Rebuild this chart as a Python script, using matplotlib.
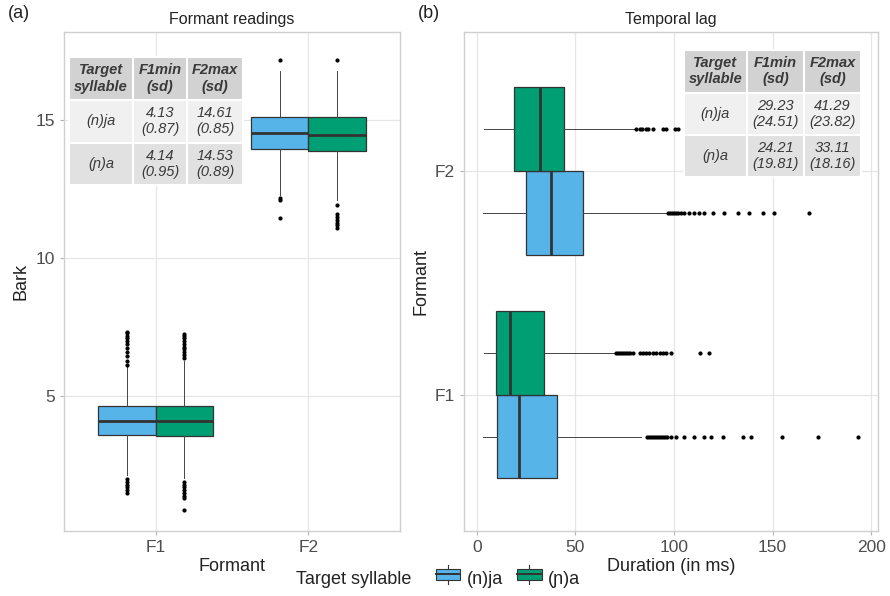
import matplotlib
matplotlib.use('Agg')
import matplotlib.pyplot as plt
from matplotlib.patches import Rectangle
from matplotlib.lines import Line2D
from matplotlib.legend_handler import HandlerBase

plt.rcParams['font.family'] = ['Liberation Sans', 'DejaVu Sans']

BLUE, GREEN = '#56B4E9', '#009E73'
EDGE = '#333333'
GRID = '#e6e6e6'
TXT = '#4d4d4d'

groups = ['(n)ja', '(ɲ)a']
formants = ['F1', 'F2']

# Box statistics: (q1, median, q3, whisker low, whisker high) per formant
bark_nja = [(3.59, 4.09, 4.64, 2.14, 6.05), (13.95, 14.53, 15.11, 12.30, 16.78)]
bark_pa = [(3.55, 4.09, 4.64, 2.03, 6.30), (13.88, 14.46, 15.11, 12.10, 16.80)]
bark_nja_out = [
    [6.15, 6.3, 6.45, 6.6, 6.75, 6.9, 7.0, 7.1, 7.2, 7.3, 7.35,
     2.0, 1.9, 1.8, 1.7, 1.6, 1.5],
    [17.2, 12.2, 12.1, 11.45],
]
bark_pa_out = [
    [6.4, 6.5, 6.6, 6.7, 6.8, 6.9, 7.0, 7.1, 7.2, 7.25,
     1.9, 1.8, 1.7, 1.6, 1.5, 1.4, 1.3, 0.9],
    [17.2, 11.95, 11.6, 11.5, 11.4, 11.3, 11.2, 11.1],
]

lag_nja = [(10.1, 21.3, 40.5, 3.0, 83.5), (24.8, 37.5, 53.7, 3.0, 96.2)]
lag_pa = [(9.6, 16.7, 33.9, 3.5, 70.0), (18.7, 31.9, 44.1, 3.5, 80.9)]
lag_nja_out = [
    [86.2, 87.5, 88.5, 89.5, 90.5, 91.5, 92.5, 93.5, 94.5, 95.5, 96.7,
     98.6, 101.1, 105.3, 110.4, 115.0, 118.8, 124.7, 134.9, 139.1,
     154.8, 173.3, 193.6],
    [96.9, 98.0, 99.0, 100.0, 101.0, 102.0, 103.5, 105.3, 107.8, 110.4,
     112.9, 115.4, 119.6, 125.5, 132.3, 138.2, 145.0, 150.9, 168.3],
]
lag_pa_out = [
    [70.4, 71.5, 72.5, 73.5, 74.5, 75.5, 76.5, 77.5, 79.2, 82.6, 84.5,
     86.0, 87.5, 89.3, 91.0, 93.0, 94.5, 96.0, 98.6, 113.0, 118.0],
    [80.9, 82.6, 84.0, 86.0, 87.0, 89.3, 94.4, 96.0, 100.5, 101.9],
]

bark_table = [['(n)ja', '4.13\n(0.87)', '14.61\n(0.85)'],
              ['(ɲ)a', '4.14\n(0.95)', '14.53\n(0.89)']]
lag_table = [['(n)ja', '29.23\n(24.51)', '41.29\n(23.82)'],
             ['(ɲ)a', '24.21\n(19.81)', '33.11\n(18.16)']]
table_head = ['Target\nsyllable', 'F1min\n(sd)', 'F2max\n(sd)']


def stats(rows, outs):
    return [dict(q1=q1, med=m, q3=q3, whislo=lo, whishi=hi, fliers=f)
            for (q1, m, q3, lo, hi), f in zip(rows, outs)]


def draw_boxes(ax, rows, outs, color, offset, vert):
    pos = [i + 1 + offset for i in range(len(rows))]
    ax.bxp(stats(rows, outs), positions=pos, widths=0.375, vert=vert,
           patch_artist=True, showcaps=False, manage_ticks=False,
           boxprops=dict(facecolor=color, edgecolor=EDGE, linewidth=0.9),
           medianprops=dict(color=EDGE, linewidth=2.0),
           whiskerprops=dict(color='#444444', linewidth=0.7),
           flierprops=dict(marker='o', markersize=2.0, markerfacecolor='black',
                           markeredgecolor='black', linestyle='none'))


def style(ax):
    ax.set_facecolor('white')
    ax.grid(color=GRID, linewidth=0.9)
    ax.set_axisbelow(True)
    for s in ax.spines.values():
        s.set_color('#cfcfcf')
        s.set_linewidth(1.0)
    ax.tick_params(colors='#b3b3b3', labelcolor=TXT, labelsize=12.5, length=3)


def draw_table(ax, bbox):
    t = ax.table(cellText=[table_head] + bbox[0], bbox=bbox[1],
                 colWidths=bbox[2], cellLoc='center')
    t.auto_set_font_size(False)
    for (r, c), cell in t.get_celld().items():
        cell.set_edgecolor('white')
        cell.set_linewidth(1.5)
        cell.set_facecolor(['#d2d2d2', '#f0f0f0', '#e1e1e1'][r])
        cell.get_text().set_fontsize(10.5)
        cell.get_text().set_color('#3a3a3a')
        cell.get_text().set_fontstyle('italic')
        if r == 0:
            cell.get_text().set_fontweight('bold')
    t.set_zorder(5)


fig = plt.figure(figsize=(8.9, 5.96), dpi=100, facecolor='white')
ax1 = fig.add_axes([0.0719, 0.109, 0.3775, 0.837])
ax2 = fig.add_axes([0.5213, 0.109, 0.4652, 0.837])

# Panel (a): formant readings in Bark
style(ax1)
draw_boxes(ax1, bark_nja, bark_nja_out, BLUE, -0.1875, True)
draw_boxes(ax1, bark_pa, bark_pa_out, GREEN, 0.1875, True)
ax1.set_xlim(0.4, 2.6)
ax1.set_ylim(0.12, 18.2)
ax1.set_xticks([1, 2], formants)
ax1.set_yticks([5, 10, 15])
ax1.set_xlabel('Formant', fontsize=13, color='#222222', labelpad=2)
ax1.set_ylabel('Bark', fontsize=13, color='#222222', labelpad=4)
ax1.set_title('Formant readings', fontsize=11.5, color='#222222', pad=6)
draw_table(ax1, (bark_table, [0.015, 0.693, 0.518, 0.257], [64, 54, 56]))

# Panel (b): temporal lag in ms
style(ax2)
draw_boxes(ax2, lag_nja, lag_nja_out, BLUE, -0.1875, False)
draw_boxes(ax2, lag_pa, lag_pa_out, GREEN, 0.1875, False)
ax2.set_ylim(0.39, 2.62)
ax2.set_xlim(-6.5, 203.5)
ax2.set_yticks([1, 2], formants)
ax2.set_xticks([0, 50, 100, 150, 200])
ax2.set_xlabel('Duration (in ms)', fontsize=13, color='#222222', labelpad=2)
ax2.set_ylabel('Formant', fontsize=13, color='#222222', labelpad=4)
ax2.set_title('Temporal lag', fontsize=11.5, color='#222222', pad=6)
draw_table(ax2, (lag_table, [0.531, 0.709, 0.428, 0.255], [63, 57, 57]))

fig.text(0.009, 0.977, '(a)', fontsize=13, color='#222222', va='center')
fig.text(0.470, 0.977, '(b)', fontsize=13, color='#222222', va='center')


class BoxKey(HandlerBase):
    def create_artists(self, legend, orig, xd, yd, w, h, fontsize, trans):
        box = Rectangle((xd + 0.05 * w, yd + 0.15 * h), 0.9 * w, 0.7 * h,
                        facecolor=orig.get_facecolor(), edgecolor=EDGE,
                        linewidth=0.8, transform=trans)
        mid = Line2D([xd + 0.05 * w, xd + 0.95 * w], [yd + 0.5 * h] * 2,
                     color=EDGE, linewidth=1.4, transform=trans)
        wh = Line2D([xd + 0.5 * w] * 2, [yd - 0.1 * h, yd + 1.1 * h],
                    color=EDGE, linewidth=0.8, transform=trans)
        return [wh, box, mid]


handles = [Rectangle((0, 0), 1, 1, facecolor=c) for c in (BLUE, GREEN)]
fig.text(0.333, 0.028, 'Target syllable', fontsize=13, color='#222222',
         va='center')
fig.legend(handles, groups, loc='center left', bbox_to_anchor=(0.478, 0.028),
           ncol=2, frameon=False, fontsize=13, handler_map={Rectangle: BoxKey()},
           handlelength=1.5, handleheight=1.0, handletextpad=0.3,
           columnspacing=0.7, borderpad=0, labelcolor='#222222')

fig.savefig('out.png', dpi=100, facecolor='white')
